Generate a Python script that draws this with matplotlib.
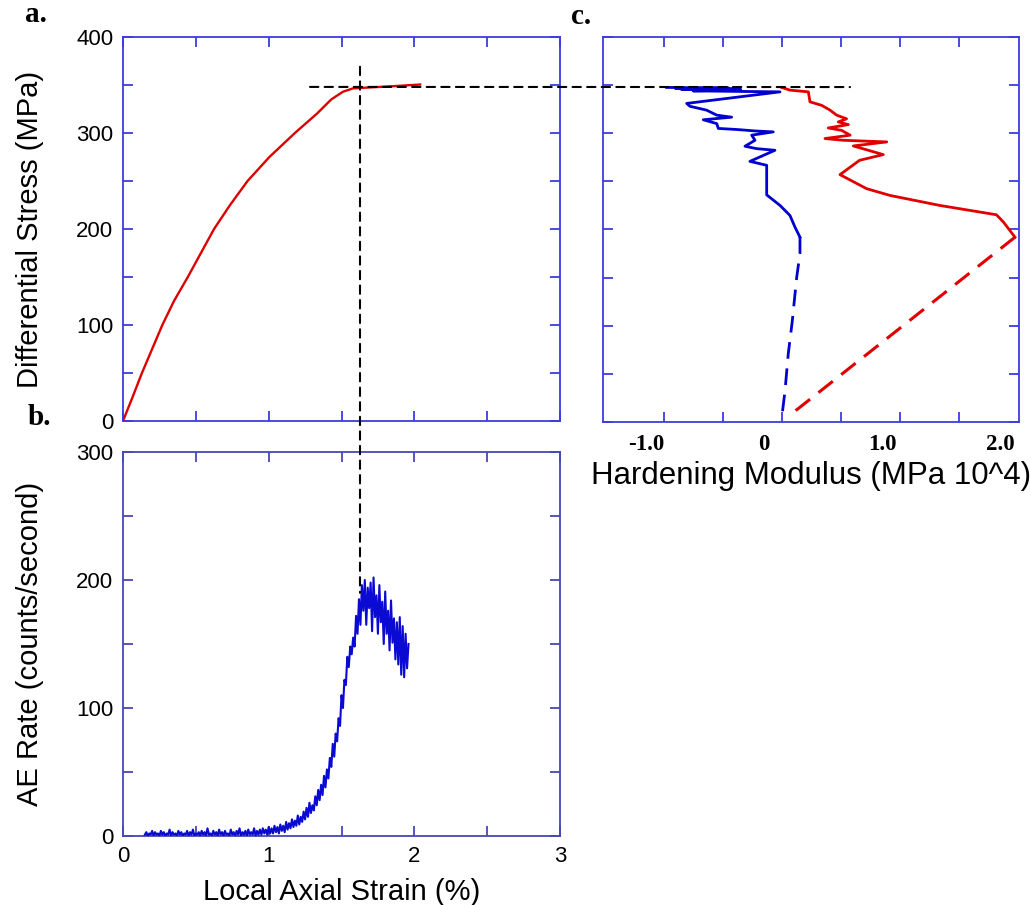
import numpy as np
import matplotlib
matplotlib.use("Agg")
import matplotlib.pyplot as plt
from matplotlib.patches import ConnectionPatch
from matplotlib.ticker import MultipleLocator, FixedLocator, NullFormatter

# ---------------- data ----------------
# (a) stress-strain curve
strain_a = [0.0, 0.066, 0.13, 0.20, 0.27, 0.35, 0.445, 0.535, 0.625, 0.735, 0.855, 1.005,
            1.18, 1.33, 1.43, 1.51, 1.58, 1.70, 1.88, 2.04]
stress_a = [0.0, 25, 50, 75, 100, 125, 150, 175, 200, 225, 250, 275,
            300, 320, 335, 343, 346.5, 347.5, 349, 350.5]

# (b) AE rate, sampled every 0.01 % strain from 0.15 to 1.96
ae_strain_start, ae_strain_end = 0.15, 1.96
ae_rate = [
    1, 3, 0, 2, 1, 4, 0, 3, 1, 2,
    0, 4, 1, 3, 0, 2, 1, 5, 0, 3,
    1, 2, 0, 4, 1, 3, 0, 2, 1, 4,
    0, 3, 1, 5, 0, 2, 1, 3, 0, 4,
    1, 3, 0, 6, 1, 2, 0, 4, 1, 3,
    0, 5, 1, 3, 0, 4, 1, 2, 0, 5,
    1, 3, 0, 4, 1, 6, 0, 3, 1, 4,
    0, 5, 1, 3, 1, 6, 0, 4, 1, 5,
    1, 6, 2, 5, 1, 7, 2, 6, 2, 8,
    3, 7, 2, 9, 4, 8, 3, 11, 5, 10,
    6, 13, 7, 12, 8, 16, 9, 15, 11, 19,
    13, 22, 15, 26, 18, 24, 20, 31, 24, 36,
    28, 40, 32, 47, 38, 52, 45, 61, 54, 72,
    62, 80, 74, 92, 86, 110, 100, 122, 118, 140,
    132, 148, 142, 155, 148, 172, 158, 185, 165, 196,
    176, 200, 165, 194, 178, 198, 160, 202, 171, 188,
    158, 196, 167, 183, 150, 191, 158, 176, 145, 184,
    151, 170, 138, 167, 134, 171, 126, 164, 124, 158,
    131, 150,
]
ae_strain = np.linspace(ae_strain_start, ae_strain_end, len(ae_rate))

# (c) hardening modulus (MPa 10^4) vs differential stress (MPa)
blue_stress = [192, 202.4, 214.6, 225, 236, 266.7, 270.8, 282.3, 284, 286.5, 292.7, 298, 301.4,
               302.4, 303.9, 305, 310, 314, 316.7, 318.8, 324, 328, 331, 343, 344, 345, 345.5,
               346, 346.5, 347, 347.6]
blue_hard = [0.305, 0.263, 0.22, 0.136, 0.023, 0.023, -0.119, 0.093, -0.062, -0.161, -0.076, -0.104,
             0.079, -0.076, -0.231, -0.387, -0.40, -0.514, -0.274, -0.40, -0.486, -0.627, -0.655,
             0.136, -0.6, -0.2, -0.7, -0.2, -0.75, -0.3, -0.825]
blue_dash_stress = [192, 175, 150, 105, 71, 32, 9]
blue_dash_hard = [0.305, 0.305, 0.277, 0.24, 0.206, 0.178, 0.155]

red_stress = [192, 207.6, 215.3, 225, 235.4, 242.4, 257, 271.9, 277.8, 286.8, 291, 292.7, 294.5,
              298, 303, 305.5, 309, 311.8, 315, 318.8, 324, 329, 332.6, 343, 344.8, 347.6]
red_hard = [2.127, 2.03, 1.97, 1.49, 1.068, 0.87, 0.644, 0.81, 1.011, 0.757, 1.04, 0.672, 0.517,
            0.73, 0.658, 0.545, 0.715, 0.63, 0.70, 0.616, 0.56, 0.489, 0.39, 0.376, 0.22, 0.15]
red_dash_stress = [192, 8]
red_dash_hard = [2.127, 0.229]

c_tick_labels = ["-1.0", "0", "1.0", "2.0"]
c_tick_values = [-1.0, 0.0, 1.0, 2.0]
c_frame_ticks = [-0.85, -0.35, 0.15, 0.65, 1.15, 1.65]

peak_strain = 1.627
peak_stress = 348

# ---------------- figure ----------------
W, H = 1031, 905
fig = plt.figure(figsize=(W / 100, H / 100), dpi=100)

def rect(l, t, r, b):
    return [l / W, 1 - b / H, (r - l) / W, (b - t) / H]

ax_a = fig.add_axes(rect(123, 37, 560, 421))
ax_b = fig.add_axes(rect(123, 452, 560, 836))
ax_c = fig.add_axes(rect(603, 37, 1019, 422))

sans = "Liberation Sans"
serif = "Liberation Serif"
frame_ac = "#3c3ce0"
frame_b = "#4848b4"

def style(ax, color):
    for s in ax.spines.values():
        s.set_color(color)
        s.set_linewidth(1.3)
    ax.tick_params(which="both", direction="in", top=True, right=True, length=7,
                   width=1.3, color=color, labelsize=16, pad=7)
    for lab in ax.get_xticklabels() + ax.get_yticklabels():
        lab.set_fontfamily(sans)

# panel a
ax_a.plot(strain_a, stress_a, color="#dd0000", lw=1.7, zorder=3)
ax_a.set_xlim(0, 3)
ax_a.set_ylim(0, 400)
ax_a.xaxis.set_major_locator(MultipleLocator(0.5))
ax_a.xaxis.set_major_formatter(NullFormatter())
ax_a.yaxis.set_major_locator(MultipleLocator(100))
ax_a.yaxis.set_minor_locator(MultipleLocator(50))
style(ax_a, frame_ac)
ax_a.set_ylabel("Differential Stress (MPa)", fontsize=21, fontfamily=sans, labelpad=23)

# panel b
ax_b.plot(ae_strain, ae_rate, color="#0a0ad2", lw=1.5, zorder=3)
ax_b.set_xlim(0, 3)
ax_b.set_ylim(0, 300)
ax_b.xaxis.set_major_locator(MultipleLocator(1))
ax_b.xaxis.set_minor_locator(MultipleLocator(0.5))
ax_b.yaxis.set_major_locator(MultipleLocator(100))
ax_b.yaxis.set_minor_locator(MultipleLocator(50))
style(ax_b, frame_b)
ax_b.set_xlabel("Local Axial Strain (%)", fontsize=21, fontfamily=sans, labelpad=8)
ax_b.set_ylabel("AE Rate (counts/second)", fontsize=21, fontfamily=sans, labelpad=23)

# panel c
ax_c.plot(blue_hard, blue_stress, color="#0000d0", lw=2.0, zorder=3)
ax_c.plot(blue_dash_hard, blue_dash_stress, color="#0000d0", lw=2.0,
          linestyle=(0, (6, 3.5)), zorder=3)
ax_c.plot(red_hard, red_stress, color="#e00000", lw=2.0, zorder=3)
ax_c.plot(red_dash_hard, red_dash_stress, color="#e00000", lw=2.2,
          linestyle=(0, (6, 3.5)), zorder=3)
ax_c.set_xlim(-1.364, 2.161)
ax_c.set_ylim(0, 400)
ax_c.xaxis.set_major_locator(FixedLocator(c_tick_values))
ax_c.set_xticklabels(c_tick_labels)
ax_c.xaxis.set_minor_locator(FixedLocator(c_frame_ticks))
ax_c.yaxis.set_major_locator(MultipleLocator(50))
ax_c.yaxis.set_major_formatter(NullFormatter())
style(ax_c, frame_ac)
ax_c.tick_params(axis="x", which="major", length=0, pad=9)
for lab in ax_c.get_xticklabels():
    lab.set_fontfamily(serif)
    lab.set_fontweight("bold")
    lab.set_fontsize(16.5)
ax_c.set_xlabel("Hardening Modulus (MPa 10^4)", fontsize=22.5, fontfamily=sans, labelpad=4)

# dashed guide lines crossing panels
con_v = ConnectionPatch(xyA=(peak_strain, 369), coordsA=ax_a.transData,
                        xyB=(peak_strain, 190), coordsB=ax_b.transData,
                        color="black", lw=1.5, linestyle=(0, (4, 3)), zorder=5)
fig.add_artist(con_v)
con_h = ConnectionPatch(xyA=(1.284, peak_stress), coordsA=ax_a.transData,
                        xyB=(0.729, peak_stress), coordsB=ax_c.transData,
                        color="black", lw=1.5, linestyle=(0, (4, 3)), zorder=5)
fig.add_artist(con_h)

# panel letters
fig.text(25 / W, 1 - 15 / H, "a.", fontsize=21, fontweight="bold", fontfamily=serif, va="center")
fig.text(28 / W, 1 - 417 / H, "b.", fontsize=21, fontweight="bold", fontfamily=serif, va="center")
fig.text(571 / W, 1 - 17 / H, "c.", fontsize=21, fontweight="bold", fontfamily=serif, va="center")

fig.savefig("out.png", dpi=100)
